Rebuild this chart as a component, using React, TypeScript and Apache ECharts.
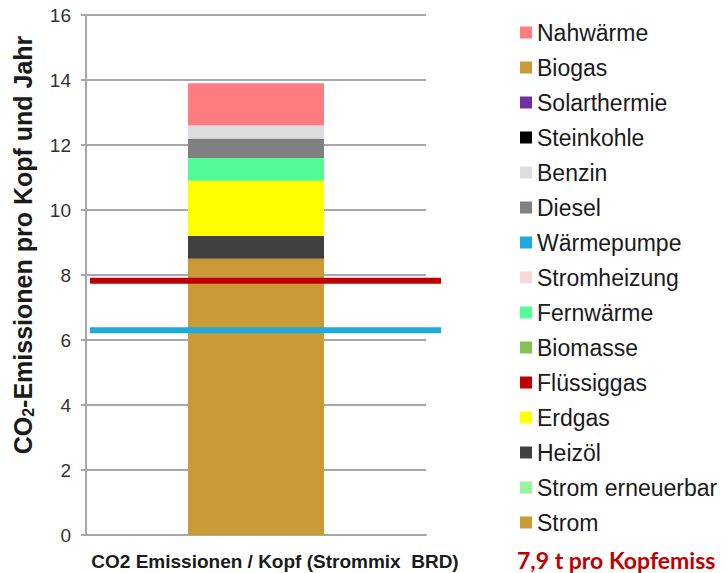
import React, { useEffect, useRef } from "react";
import * as echarts from "echarts";

// ---- data ----
const categories = ["CO2 Emissionen / Kopf (Strommix  BRD)"];

// stacked bar segments, bottom to top
const stackNames = [
  "Strom",
  "Strom erneuerbar",
  "Heizöl",
  "Erdgas",
  "Biomasse",
  "Fernwärme",
  "Stromheizung",
  "Diesel",
  "Benzin",
  "Steinkohle",
  "Solarthermie",
  "Biogas",
  "Nahwärme",
];
const stackValues = [8.5, 0, 0.7, 1.7, 0, 0.7, 0, 0.6, 0.4, 0, 0, 0, 1.3];

// horizontal reference lines
const lineNames = ["Flüssiggas", "Wärmepumpe"];
const lineValues = [7.82, 6.3];
const lineSpan = ["a", "b"];

// legend order (top to bottom)
const legendOrder = [
  "Nahwärme",
  "Biogas",
  "Solarthermie",
  "Steinkohle",
  "Benzin",
  "Diesel",
  "Wärmepumpe",
  "Stromheizung",
  "Fernwärme",
  "Biomasse",
  "Flüssiggas",
  "Erdgas",
  "Heizöl",
  "Strom erneuerbar",
  "Strom",
];

const colorMap: Record<string, string> = {
  Nahwärme: "#ff7c80",
  Biogas: "#c99a3a",
  Solarthermie: "#7030a0",
  Steinkohle: "#000000",
  Benzin: "#dcdde0",
  Diesel: "#808080",
  Wärmepumpe: "#1fa9dc",
  Stromheizung: "#f6d9d9",
  Fernwärme: "#52fb96",
  Biomasse: "#86c250",
  Flüssiggas: "#c00000",
  Erdgas: "#ffff00",
  Heizöl: "#404040",
  "Strom erneuerbar": "#99f59d",
  Strom: "#c99a35",
};

const yMin = 0;
const yMax = 16;
const yInterval = 2;

const yTitle = "CO{s|2}-Emissionen pro Kopf und Jahr";
const note = "7,9 t pro Kopfemiss";

const FONT = "'Liberation Sans', Arial, sans-serif";
const GRID_COLOR = "#a8a8a8";

export default function App() {
  const ref = useRef<HTMLDivElement>(null);

  useEffect(() => {
    if (!ref.current) return;
    const chart = echarts.init(ref.current, undefined, { renderer: "svg" });

    const barSeries = stackNames.map((name, i) => ({
      name,
      type: "bar" as const,
      stack: "total",
      xAxisIndex: 0,
      yAxisIndex: 0,
      barWidth: 136,
      itemStyle: { color: colorMap[name] },
      data: [stackValues[i]],
    }));

    const lineSeries = lineNames.map((name, i) => ({
      name,
      type: "line" as const,
      xAxisIndex: 1,
      yAxisIndex: 1,
      symbol: "none",
      z: 10,
      lineStyle: { color: colorMap[name], width: 6, cap: "butt" },
      itemStyle: { color: colorMap[name] },
      data: lineSpan.map(() => lineValues[i]),
    }));

    chart.setOption({
      animation: false,
      backgroundColor: "#ffffff",
      textStyle: { fontFamily: FONT },
      grid: [
        { left: 86, right: 301, top: 15, bottom: 38 },
        { left: 90, right: 286, top: 15, bottom: 38 },
      ],
      legend: {
        data: legendOrder,
        orient: "vertical",
        left: 520,
        top: 21,
        padding: 0,
        icon: "rect",
        itemWidth: 12,
        itemHeight: 12,
        itemGap: 12,
        selectedMode: false,
        textStyle: {
          fontSize: 23,
          lineHeight: 23,
          color: "#1a1a1a",
          fontFamily: FONT,
        },
      },
      xAxis: [
        {
          type: "category",
          gridIndex: 0,
          data: categories,
          axisLine: { show: true, lineStyle: { color: GRID_COLOR, width: 2 } },
          axisTick: { show: false },
          axisLabel: {
            margin: 17,
            fontSize: 19,
            fontWeight: "bold",
            color: "#1a1a1a",
            fontFamily: FONT,
            padding: [0, 0, 0, 38],
          },
        },
        {
          type: "category",
          gridIndex: 1,
          data: lineSpan,
          boundaryGap: false,
          show: false,
        },
      ],
      yAxis: [
        {
          type: "value",
          gridIndex: 0,
          min: yMin,
          max: yMax,
          interval: yInterval,
          name: yTitle,
          nameLocation: "middle",
          nameGap: 50,
          nameTextStyle: {
            fontSize: 25,
            fontWeight: "bold",
            color: "#1a1a1a",
            fontFamily: FONT,
            padding: [0, 0, 0, 60],
            rich: {
              s: {
                fontSize: 16,
                fontWeight: "bold",
                color: "#1a1a1a",
                fontFamily: FONT,
                padding: [10, 0, 0, 0],
              },
            },
          },
          axisLine: { show: true, lineStyle: { color: GRID_COLOR, width: 2 } },
          axisTick: {
            show: true,
            length: 5,
            lineStyle: { color: GRID_COLOR, width: 2 },
          },
          axisLabel: {
            margin: 15,
            fontSize: 19,
            color: "#333333",
            fontFamily: FONT,
          },
          splitLine: { show: true, lineStyle: { color: GRID_COLOR, width: 2 } },
        },
        {
          type: "value",
          gridIndex: 1,
          min: yMin,
          max: yMax,
          show: false,
        },
      ],
      graphic: [
        {
          type: "text",
          left: 517,
          top: 548,
          style: {
            text: note,
            fontSize: 23,
            lineHeight: 23,
            fontWeight: "bold",
            fontFamily: "Lato, 'Open Sans', sans-serif",
            fill: "#c00000",
          },
        },
      ],
      series: [...barSeries, ...lineSeries],
    });

    return () => chart.dispose();
  }, []);

  return (
    <div
      ref={ref}
      style={{ position: "absolute", left: 0, top: 0, width: 727, height: 573 }}
    />
  );
}
